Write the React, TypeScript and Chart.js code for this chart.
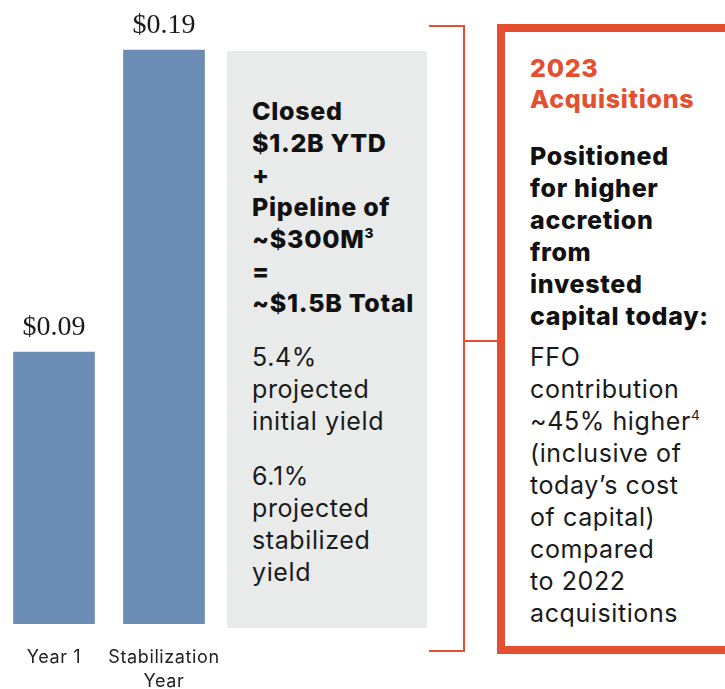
import React, { useEffect, useRef } from "react";
import { Chart, registerables } from "chart.js";

Chart.register(...registerables);

const categories: string[][] = [["Year 1"], ["Stabilization", "Year"]];
const ffoPerShare: number[] = [0.09, 0.19];
const yMax = 0.2;

const greyBold: string[] = ["Closed", "$1.2B YTD", "+", "Pipeline of", "~$300M³", "=", "~$1.5B Total"];
const greyPara1: string[] = ["5.4%", "projected", "initial yield"];
const greyPara2: string[] = ["6.1%", "projected", "stabilized", "yield"];
const boxTitle: string[] = ["2023", "Acquisitions"];
const boxBold: string[] = ["Positioned", "for higher", "accretion", "from", "invested", "capital today:"];
const boxRegular: string[] = ["FFO", "contribution", "~45% higher⁴", "(inclusive of", "today’s cost", "of capital)", "compared", "to 2022", "acquisitions"];

const ORANGE = "#E4502F";
const BLUE = "#6B8DB5";
const GREY = "#E9EAEA";
const SANS = "Inter, 'Noto Sans', sans-serif";
const SUP: Record<string, string> = { "³": "3", "⁴": "4" };

const labelPlugin = {
  id: "barLabels",
  afterDatasetsDraw(chart: any) {
    const ctx = chart.ctx;
    const meta = chart.getDatasetMeta(0);
    const area = chart.chartArea;
    ctx.save();
    meta.data.forEach((bar: any, i: number) => {
      const v = ffoPerShare[i];
      ctx.fillStyle = "#1a1a1a";
      ctx.font = "28px 'Liberation Serif', serif";
      ctx.textAlign = "center";
      ctx.textBaseline = "alphabetic";
      (ctx as any).letterSpacing = "0px";
      ctx.fillText("$" + v.toFixed(2), bar.x, bar.y - 17);
      ctx.font = "18px " + SANS;
      (ctx as any).letterSpacing = "0.6px";
      ctx.fillStyle = "#222";
      categories[i].forEach((line, j) => {
        ctx.fillText(line, bar.x, area.bottom + 39 + j * 24);
      });
    });
    ctx.restore();
  },
};

function renderLine(l: string) {
  const last = l[l.length - 1];
  if (SUP[last]) {
    return (
      <>
        {l.slice(0, -1)}
        <span style={{ fontSize: "0.55em", position: "relative", top: "-0.75em", letterSpacing: 0, lineHeight: 0 }}>{SUP[last]}</span>
      </>
    );
  }
  return l;
}

function Lines({ lines, style, lh = 32 }: { lines: string[]; style: React.CSSProperties; lh?: number }) {
  return (
    <div style={style}>
      {lines.map((l, i) => (
        <div key={i} style={{ height: lh, lineHeight: lh + "px" }}>{renderLine(l)}</div>
      ))}
    </div>
  );
}

export default function App() {
  const ref = useRef<HTMLCanvasElement>(null);
  useEffect(() => {
    const chart = new Chart(ref.current as HTMLCanvasElement, {
      type: "bar",
      data: {
        labels: categories,
        datasets: [
          {
            data: ffoPerShare,
            backgroundColor: BLUE,
            barThickness: 81,
          },
        ],
      },
      options: {
        animation: false,
        responsive: false,
        devicePixelRatio: 1,
        layout: { padding: { top: 20, bottom: 65, left: 0, right: 0 } },
        plugins: { legend: { display: false }, tooltip: { enabled: false } },
        scales: {
          x: { display: false },
          y: { display: false, min: 0, max: yMax },
        },
      },
      plugins: [labelPlugin],
    });
    return () => chart.destroy();
  }, []);

  const boldStyle: React.CSSProperties = {
    fontFamily: SANS,
    fontWeight: 800,
    fontSize: 25,
    color: "#111",
    letterSpacing: "0.7px",
  };
  const regStyle: React.CSSProperties = {
    fontFamily: SANS,
    fontWeight: 400,
    fontSize: 25,
    color: "#1a1a1a",
    letterSpacing: "0.6px",
  };

  return (
    <div
      style={{
        position: "absolute",
        left: 0,
        top: 0,
        width: 725,
        height: 689,
        overflow: "hidden",
        background: "#fff",
      }}
    >
      <canvas ref={ref} width={220} height={689} style={{ position: "absolute", left: -1, top: 0 }} />
      <div style={{ position: "absolute", left: 227, top: 51, width: 200, height: 577, background: GREY }} />
      <Lines lines={greyBold} style={{ ...boldStyle, position: "absolute", left: 252, top: 95, whiteSpace: "nowrap" }} />
      <Lines lines={greyPara1} style={{ ...regStyle, position: "absolute", left: 252, top: 341, whiteSpace: "nowrap" }} />
      <Lines lines={greyPara2} style={{ ...regStyle, position: "absolute", left: 252, top: 460, whiteSpace: "nowrap" }} />
      {/* bracket */}
      <div style={{ position: "absolute", left: 429, top: 25, width: 35, height: 2, background: ORANGE }} />
      <div style={{ position: "absolute", left: 463, top: 25, width: 2, height: 627, background: ORANGE }} />
      <div style={{ position: "absolute", left: 429, top: 650, width: 35, height: 2, background: ORANGE }} />
      <div style={{ position: "absolute", left: 464, top: 340, width: 34, height: 2, background: ORANGE }} />
      {/* orange box */}
      <div
        style={{
          position: "absolute",
          left: 497,
          top: 24,
          width: 300,
          height: 614,
          border: `8px solid ${ORANGE}`,
        }}
      />
      <Lines lines={boxTitle} lh={31} style={{ ...boldStyle, color: ORANGE, position: "absolute", left: 530, top: 53, whiteSpace: "nowrap" }} />
      <Lines lines={boxBold} style={{ ...boldStyle, position: "absolute", left: 530, top: 140, whiteSpace: "nowrap" }} />
      <Lines lines={boxRegular} style={{ ...regStyle, position: "absolute", left: 530, top: 341, whiteSpace: "nowrap" }} />
    </div>
  );
}
